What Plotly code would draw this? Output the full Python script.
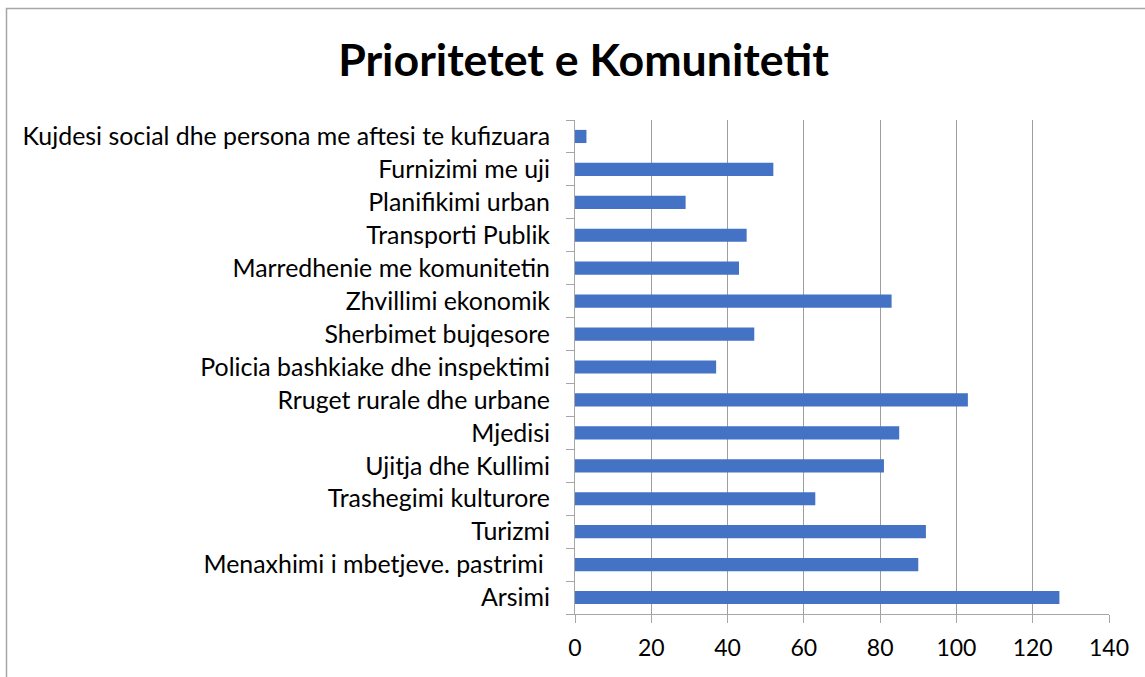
import plotly.graph_objects as go

categories = [
    "Arsimi",
    "Menaxhimi i mbetjeve. pastrimi ",
    "Turizmi",
    "Trashegimi kulturore",
    "Ujitja dhe Kullimi",
    "Mjedisi",
    "Rruget rurale dhe urbane",
    "Policia bashkiake dhe inspektimi",
    "Sherbimet bujqesore",
    "Zhvillimi ekonomik",
    "Marredhenie me komunitetin",
    "Transporti Publik",
    "Planifikimi urban",
    "Furnizimi me uji",
    "Kujdesi social dhe persona me aftesi te kufizuara",
]
values = [127, 90, 92, 63, 81, 85, 103, 37, 47, 83, 43, 45, 29, 52, 3]
x_ticks = [0, 20, 40, 60, 80, 100, 120, 140]

W, H = 1145, 677
L, R, T, B = 575, 36, 120, 63

fig = go.Figure(go.Bar(
    x=values, y=categories, orientation="h",
    marker=dict(color="#4472C4", line=dict(width=0)),
))

pw = W - L - R
ph = H - T - B

fig.update_layout(
    width=W, height=H,
    margin=dict(l=L, r=R, t=T, b=B, autoexpand=False),
    paper_bgcolor="white", plot_bgcolor="white",
    bargap=0.6,
    showlegend=False,
    font=dict(family="Lato", size=20, color="black"),
    title=dict(text="<b>Prioritetet e Komunitetit</b>", x=583.5 / W, xanchor="center",
               xref="container", y=1 - 60 / H, yanchor="middle",
               font=dict(family="Lato", size=44.7, color="black")),
    xaxis=dict(range=[0, 140], tickvals=x_ticks, showgrid=True,
               gridcolor="#9E9E9E", gridwidth=1, zeroline=False,
               showline=True, linecolor="#A6A6A6", linewidth=1,
               ticks="outside", ticklen=8, tickcolor="#A6A6A6",
               ticklabelstandoff=5, tickfont=dict(size=23)),
    yaxis=dict(type="category", categoryorder="array", categoryarray=categories,
               showline=True, linecolor="#A6A6A6", linewidth=1,
               ticks="outside", tickson="boundaries", ticklen=8,
               tickcolor="#A6A6A6", showgrid=False, ticklabelstandoff=19,
               tickfont=dict(size=24.9), range=[-0.5, len(categories) - 0.5]),
    shapes=[dict(type="rect", xref="paper", yref="paper",
                 x0=(6.5 - L) / pw, x1=(W + 10 - L) / pw,
                 y0=-(B + 20) / ph, y1=(H - 8.5 - B) / ph,
                 line=dict(color="#A6A6A6", width=1.5), layer="below")],
)

fig.write_html("out.html", config={"displayModeBar": False},
               post_script="document.body.style.margin='0';document.body.style.overflow='hidden';")
